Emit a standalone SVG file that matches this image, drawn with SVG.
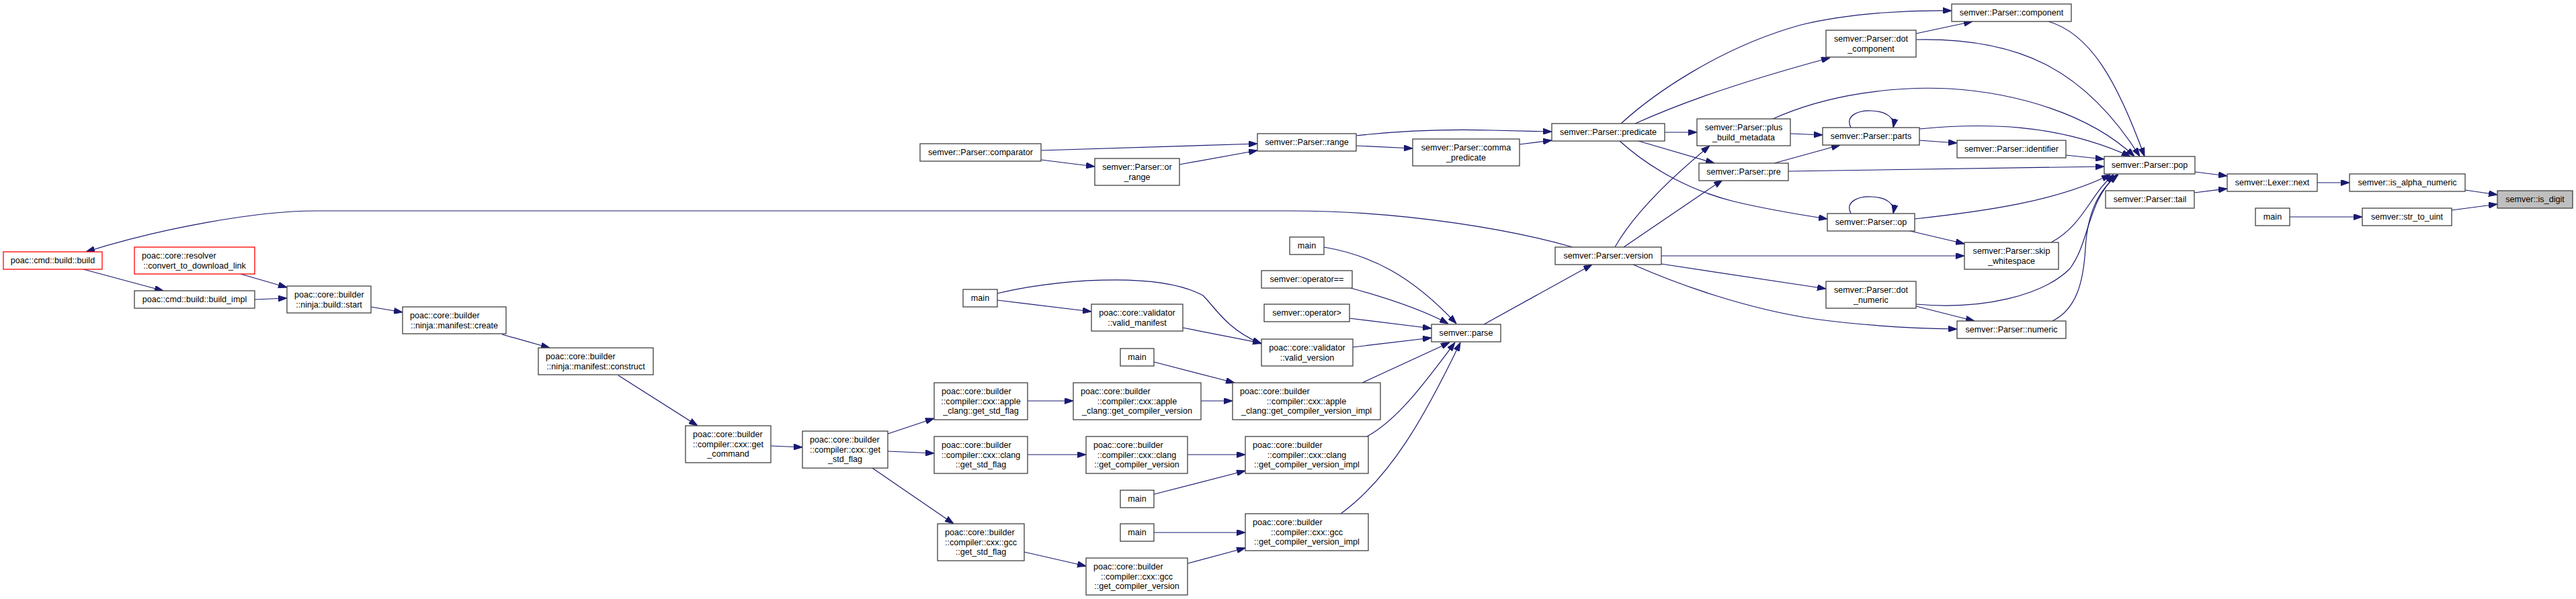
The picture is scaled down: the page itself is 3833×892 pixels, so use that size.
<svg xmlns="http://www.w3.org/2000/svg" width="3833" height="892" viewBox="0 0 3833 892">
<style>
.n rect{fill:#fff;stroke:#404040;stroke-width:1.3}
.r rect{stroke:#ff0000}
.root rect{fill:#bfbfbf}
text{font-family:"Liberation Sans",Arial,sans-serif;font-size:12.6px;fill:#000;text-anchor:middle}
text.l{text-anchor:start}
.e path{fill:none;stroke:#191970;stroke-width:1.2;marker-end:url(#ah)}
</style>
<defs>
<marker id="ah" markerWidth="13" markerHeight="9" refX="13" refY="4.5" orient="auto" markerUnits="userSpaceOnUse"><path d="M0,0 L13,4.5 L0,9 z" fill="#191970" stroke="#191970" stroke-width="1"/></marker>
</defs>
<rect width="3833" height="892" fill="#fff"/>
<g id="edges" class="e">
<path d="M2340,368 C2260,345 2100,314 1920,314 L470,314 C380,314 240,340 128,375"/>
<path d="M124,401 L243,433"/>
<path d="M358,408 L427,428"/>
<path d="M379,446 L427,444"/>
<path d="M552,457 L599,465"/>
<path d="M747,498 L818,518"/>
<path d="M920,559 L1038,634"/>
<path d="M1147,664 L1194,666"/>
<path d="M1321,646 L1390,623"/>
<path d="M1321,672 L1390,675"/>
<path d="M1298,697 L1419,780"/>
<path d="M1529,597 L1597,597"/>
<path d="M1787,597 L1834,597"/>
<path d="M1529,677 L1616,677"/>
<path d="M1767,677 L1853,677"/>
<path d="M1524,822 L1616,843"/>
<path d="M1767,839 L1853,816"/>
<path d="M1717,793 L1853,793"/>
<path d="M1717,736 L1853,701"/>
<path d="M1717,539 L1837,570"/>
<path d="M1484,447 L1624,464"/>
<path d="M1484,437 C1560,418 1720,402 1790,440 C1810,460 1825,490 1877,512"/>
<path d="M1760,488 L1877,511"/>
<path d="M2008,474 L2130,489"/>
<path d="M2013,517 L2130,503"/>
<path d="M2027,570 L2157,510"/>
<path d="M2034,650 C2080,625 2120,570 2165,510"/>
<path d="M1995,765 C2070,710 2120,620 2173,510"/>
<path d="M2010,429 C2050,440 2110,458 2155,482"/>
<path d="M1970,368 C2040,380 2100,410 2167,482"/>
<path d="M2208,483 L2369,394"/>
<path d="M1549,224 L1871,214"/>
<path d="M1549,238 L1629,248"/>
<path d="M1755,245 L1871,224"/>
<path d="M2018,202 C2090,194 2150,192 2220,194 L2309,196"/>
<path d="M2018,217 L2102,221"/>
<path d="M2261,215 L2309,209"/>
<path d="M2477,197 L2525,197"/>
<path d="M2438,210 L2551,243"/>
<path d="M2410,210 C2460,255 2520,285 2580,300 C2630,312 2680,320 2719,326"/>
<path d="M2412,184 C2460,140 2560,70 2680,37 C2760,18 2850,15 2904,16"/>
<path d="M2433,184 C2480,163 2560,130 2723,86"/>
<path d="M2851,50 L2935,32"/>
<path d="M3048,32 C3110,50 3150,120 3191,233"/>
<path d="M2851,59 C3000,56 3100,100 3184,233"/>
<path d="M2638,177 C2720,140 2820,128 2900,132 C3000,138 3110,170 3176,233"/>
<path d="M2856,192 C2950,183 3060,183 3170,233"/>
<path d="M3074,231 L3131,237"/>
<path d="M2661,255 L3131,248"/>
<path d="M2849,326 C2950,315 3060,300 3140,260"/>
<path d="M3052,361 C3100,335 3110,290 3145,260"/>
<path d="M2851,453 C2950,462 3040,440 3080,400 C3110,360 3105,300 3150,260"/>
<path d="M3054,478 C3090,460 3100,420 3103,370 C3106,320 3120,285 3152,260"/>
<path d="M2403,368 C2430,320 2480,270 2544,217"/>
<path d="M2416,368 L2563,268"/>
<path d="M2472,381 L2923,381"/>
<path d="M2472,393 L2717,430"/>
<path d="M2430,394 C2500,425 2600,460 2700,475 C2780,486 2850,489 2912,490"/>
<path d="M2838,343 L2923,363"/>
<path d="M2754,318 C2745,300 2765,292 2785,293 C2805,294 2820,302 2817,318"/>
<path d="M2754,190 C2745,172 2765,164 2785,165 C2805,166 2820,174 2817,190"/>
<path d="M2664,199 L2712,201"/>
<path d="M2640,243 L2738,216"/>
<path d="M2856,209 L2912,213"/>
<path d="M2851,456 L2938,478"/>
<path d="M3266,256 L3314,262"/>
<path d="M3265,287 L3314,281"/>
<path d="M3448,272 L3496,272"/>
<path d="M3668,283 L3716,290"/>
<path d="M3407,323 L3515,323"/>
<path d="M3648,313 L3716,304"/>
</g>
<g id="n_build" class="n r"><rect x="5" y="375" width="147" height="26"/><text x="78.5" y="392">poac::cmd::build::build</text></g>
<g id="n_resolver" class="n r"><rect x="200" y="368" width="179" height="40"/><text class="l" x="211" y="385">poac::core::resolver</text><text x="289.5" y="399.5">::convert_to_download_link</text></g>
<g id="n_build_impl" class="n"><rect x="200" y="433" width="179" height="26"/><text x="289.5" y="450">poac::cmd::build::build_impl</text></g>
<g id="n_start" class="n"><rect x="427" y="426" width="125" height="40"/><text class="l" x="438" y="443">poac::core::builder</text><text x="489.5" y="457.5">::ninja::build::start</text></g>
<g id="n_create" class="n"><rect x="599" y="457" width="154" height="40"/><text class="l" x="610" y="474">poac::core::builder</text><text x="676" y="488.5">::ninja::manifest::create</text></g>
<g id="n_construct" class="n"><rect x="801" y="518" width="171" height="40"/><text class="l" x="812" y="535">poac::core::builder</text><text x="886.5" y="549.5">::ninja::manifest::construct</text></g>
<g id="n_get_command" class="n"><rect x="1020" y="634" width="127" height="55"/><text class="l" x="1031" y="651.3">poac::core::builder</text><text x="1083.5" y="665.8">::compiler::cxx::get</text><text x="1083.5" y="680.3">_command</text></g>
<g id="n_get_std_flag" class="n"><rect x="1194" y="642" width="127" height="55"/><text class="l" x="1205" y="659.3">poac::core::builder</text><text x="1257.5" y="673.8">::compiler::cxx::get</text><text x="1257.5" y="688.3">_std_flag</text></g>
<g id="n_apple_std" class="n"><rect x="1390" y="570" width="139" height="55"/><text class="l" x="1401" y="587.3">poac::core::builder</text><text x="1459.5" y="601.8">::compiler::cxx::apple</text><text x="1459.5" y="616.3">_clang::get_std_flag</text></g>
<g id="n_clang_std" class="n"><rect x="1390" y="650" width="139" height="55"/><text class="l" x="1401" y="667.3">poac::core::builder</text><text x="1459.5" y="681.8">::compiler::cxx::clang</text><text x="1459.5" y="696.3">::get_std_flag</text></g>
<g id="n_gcc_std" class="n"><rect x="1395" y="780" width="129" height="55"/><text class="l" x="1406" y="797.3">poac::core::builder</text><text x="1459.5" y="811.8">::compiler::cxx::gcc</text><text x="1459.5" y="826.3">::get_std_flag</text></g>
<g id="n_apple_gcv" class="n"><rect x="1597" y="570" width="190" height="55"/><text class="l" x="1608" y="587.3">poac::core::builder</text><text x="1692" y="601.8">::compiler::cxx::apple</text><text x="1692" y="616.3">_clang::get_compiler_version</text></g>
<g id="n_clang_gcv" class="n"><rect x="1616" y="650" width="151" height="55"/><text class="l" x="1627" y="667.3">poac::core::builder</text><text x="1691.5" y="681.8">::compiler::cxx::clang</text><text x="1691.5" y="696.3">::get_compiler_version</text></g>
<g id="n_gcc_gcv" class="n"><rect x="1616" y="831" width="151" height="55"/><text class="l" x="1627" y="848.3">poac::core::builder</text><text x="1691.5" y="862.8">::compiler::cxx::gcc</text><text x="1691.5" y="877.3">::get_compiler_version</text></g>
<g id="n_main_a" class="n"><rect x="1433" y="431" width="51" height="26"/><text x="1458.5" y="448">main</text></g>
<g id="n_valid_manifest" class="n"><rect x="1624" y="453" width="136" height="40"/><text x="1692" y="470">poac::core::validator</text><text x="1692" y="484.5">::valid_manifest</text></g>
<g id="n_main_b" class="n"><rect x="1667" y="519" width="50" height="26"/><text x="1692" y="536">main</text></g>
<g id="n_main_c" class="n"><rect x="1667" y="730" width="50" height="26"/><text x="1692" y="747">main</text></g>
<g id="n_main_d" class="n"><rect x="1667" y="780" width="50" height="26"/><text x="1692" y="797">main</text></g>
<g id="n_apple_impl" class="n"><rect x="1834" y="570" width="220" height="55"/><text class="l" x="1845" y="587.3">poac::core::builder</text><text x="1944" y="601.8">::compiler::cxx::apple</text><text x="1944" y="616.3">_clang::get_compiler_version_impl</text></g>
<g id="n_clang_impl" class="n"><rect x="1853" y="650" width="183" height="55"/><text class="l" x="1864" y="667.3">poac::core::builder</text><text x="1944.5" y="681.8">::compiler::cxx::clang</text><text x="1944.5" y="696.3">::get_compiler_version_impl</text></g>
<g id="n_gcc_impl" class="n"><rect x="1853" y="765" width="183" height="55"/><text class="l" x="1864" y="782.3">poac::core::builder</text><text x="1944.5" y="796.8">::compiler::cxx::gcc</text><text x="1944.5" y="811.3">::get_compiler_version_impl</text></g>
<g id="n_valid_version" class="n"><rect x="1877" y="505" width="136" height="40"/><text x="1945" y="522">poac::core::validator</text><text x="1945" y="536.5">::valid_version</text></g>
<g id="n_op_gt" class="n"><rect x="1881" y="453" width="127" height="26"/><text x="1944.5" y="470">semver::operator&gt;</text></g>
<g id="n_op_eq" class="n"><rect x="1877" y="403" width="135" height="26"/><text x="1944.5" y="420">semver::operator==</text></g>
<g id="n_main_e" class="n"><rect x="1919" y="353" width="51" height="26"/><text x="1944.5" y="370">main</text></g>
<g id="n_parse" class="n"><rect x="2130" y="483" width="103" height="26"/><text x="2181.5" y="500">semver::parse</text></g>
<g id="n_comparator" class="n"><rect x="1369" y="214" width="180" height="26"/><text x="1459" y="231">semver::Parser::comparator</text></g>
<g id="n_or_range" class="n"><rect x="1629" y="236" width="126" height="40"/><text x="1692" y="253">semver::Parser::or</text><text x="1692" y="267.5">_range</text></g>
<g id="n_range" class="n"><rect x="1871" y="199" width="147" height="26"/><text x="1944.5" y="216">semver::Parser::range</text></g>
<g id="n_comma_predicate" class="n"><rect x="2102" y="207" width="159" height="40"/><text x="2181.5" y="224">semver::Parser::comma</text><text x="2181.5" y="238.5">_predicate</text></g>
<g id="n_predicate" class="n"><rect x="2309" y="184" width="168" height="26"/><text x="2393" y="201">semver::Parser::predicate</text></g>
<g id="n_version" class="n"><rect x="2314" y="368" width="158" height="26"/><text x="2393" y="385">semver::Parser::version</text></g>
<g id="n_plus_build_metadata" class="n"><rect x="2525" y="177" width="139" height="40"/><text x="2594.5" y="194">semver::Parser::plus</text><text x="2594.5" y="208.5">_build_metadata</text></g>
<g id="n_pre" class="n"><rect x="2528" y="243" width="133" height="26"/><text x="2594.5" y="260">semver::Parser::pre</text></g>
<g id="n_component" class="n"><rect x="2904" y="6" width="178" height="26"/><text x="2993" y="23">semver::Parser::component</text></g>
<g id="n_dot_component" class="n"><rect x="2717" y="45" width="134" height="40"/><text x="2784" y="62">semver::Parser::dot</text><text x="2784" y="76.5">_component</text></g>
<g id="n_parts" class="n"><rect x="2712" y="190" width="144" height="26"/><text x="2784" y="207">semver::Parser::parts</text></g>
<g id="n_identifier" class="n"><rect x="2912" y="209" width="162" height="26"/><text x="2993" y="226">semver::Parser::identifier</text></g>
<g id="n_op" class="n"><rect x="2719" y="318" width="130" height="26"/><text x="2784" y="335">semver::Parser::op</text></g>
<g id="n_skip_whitespace" class="n"><rect x="2923" y="361" width="140" height="40"/><text x="2993" y="378">semver::Parser::skip</text><text x="2993" y="392.5">_whitespace</text></g>
<g id="n_dot_numeric" class="n"><rect x="2717" y="419" width="134" height="40"/><text x="2784" y="436">semver::Parser::dot</text><text x="2784" y="450.5">_numeric</text></g>
<g id="n_numeric" class="n"><rect x="2912" y="478" width="162" height="26"/><text x="2993" y="495">semver::Parser::numeric</text></g>
<g id="n_pop" class="n"><rect x="3131" y="233" width="135" height="26"/><text x="3198.5" y="250">semver::Parser::pop</text></g>
<g id="n_tail" class="n"><rect x="3133" y="284" width="132" height="26"/><text x="3199" y="301">semver::Parser::tail</text></g>
<g id="n_next" class="n"><rect x="3314" y="259" width="134" height="26"/><text x="3381" y="276">semver::Lexer::next</text></g>
<g id="n_is_alpha_numeric" class="n"><rect x="3496" y="259" width="172" height="26"/><text x="3582" y="276">semver::is_alpha_numeric</text></g>
<g id="n_is_digit" class="n root"><rect x="3716" y="284" width="112" height="26"/><text x="3772" y="301">semver::is_digit</text></g>
<g id="n_main_f" class="n"><rect x="3356" y="310" width="51" height="26"/><text x="3381.5" y="327">main</text></g>
<g id="n_str_to_uint" class="n"><rect x="3515" y="310" width="133" height="26"/><text x="3581.5" y="327">semver::str_to_uint</text></g>
</svg>
